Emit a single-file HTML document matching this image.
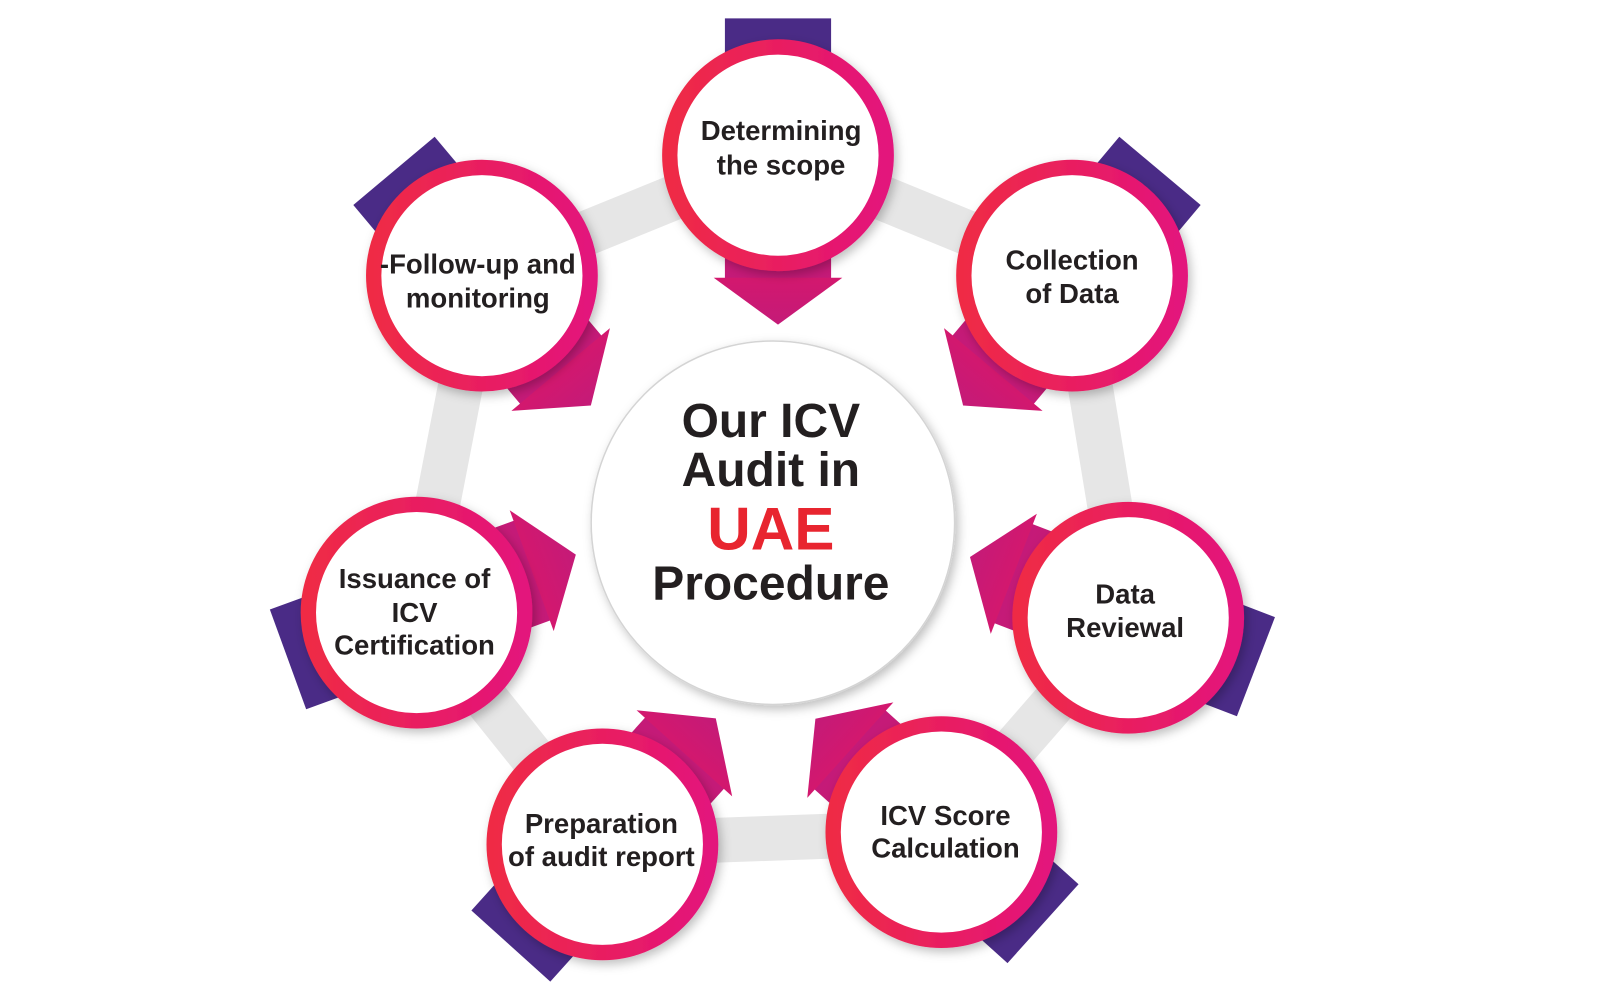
<!DOCTYPE html>
<html><head><meta charset="utf-8"><style>
html,body{margin:0;padding:0;background:#fff;}
svg{display:block;}
text{font-family:"Liberation Sans",sans-serif;font-weight:bold;fill:#231f20;text-anchor:middle;}
</style></head><body>
<svg width="1600" height="1008" viewBox="0 0 1600 1008" xmlns="http://www.w3.org/2000/svg">
<defs>
<linearGradient id="ring" x1="0" y1="0" x2="1" y2="0">
<stop offset="0" stop-color="#ef2b45"/><stop offset="1" stop-color="#e3127c"/>
</linearGradient>
<linearGradient id="arr" x1="0" y1="0" x2="0" y2="1">
<stop offset="0" stop-color="#d3186e"/><stop offset="1" stop-color="#c41a78"/>
</linearGradient>
<filter id="sh" x="-20%" y="-20%" width="140%" height="140%"><feDropShadow dx="3" dy="4" stdDeviation="5" flood-opacity="0.25"/></filter>
<g id="arrow">
<rect x="-52" y="-134" width="104" height="134" fill="#4a2b86"/>
<rect x="-52" y="0" width="104" height="122" fill="url(#arr)"/>
<polygon points="-63,120 63,120 0,166" fill="url(#arr)"/>
</g>
</defs>
<g transform="scale(1.021)">
<polygon points="762,152 1050,270 1105,605 922,815 590,827 408,600 472,270" fill="none" stroke="#e6e6e6" stroke-width="44" stroke-linejoin="round"/>
<circle cx="757" cy="512" r="178" fill="#fff" stroke="#d4d4d4" stroke-width="1.5" filter="url(#sh)"/>
<use href="#arrow" transform="translate(762,152) rotate(0)"/>
<use href="#arrow" transform="translate(1050,270) rotate(40)"/>
<use href="#arrow" transform="translate(1105,605) rotate(111)"/>
<use href="#arrow" transform="translate(922,815) rotate(132)"/>
<use href="#arrow" transform="translate(590,827) rotate(-138)"/>
<use href="#arrow" transform="translate(408,600) rotate(-110)"/>
<use href="#arrow" transform="translate(472,270) rotate(-40)"/>
<g fill="#fff" stroke="url(#ring)" stroke-width="15" filter="url(#sh)">
<circle cx="762" cy="152" r="106"/>
<circle cx="1050" cy="270" r="106"/>
<circle cx="1105" cy="605" r="106"/>
<circle cx="922" cy="815" r="106"/>
<circle cx="590" cy="827" r="106"/>
<circle cx="408" cy="600" r="106"/>
<circle cx="472" cy="270" r="106"/>
</g>
<g font-size="27">
<text x="765" y="137">Determining</text><text x="765" y="171">the scope</text>
<text x="1050" y="264">Collection</text><text x="1050" y="297">of Data</text>
<text x="1102" y="591">Data</text><text x="1102" y="624">Reviewal</text>
<text x="926" y="808">ICV Score</text><text x="926" y="840">Calculation</text>
<text x="589" y="816">Preparation</text><text x="589" y="848">of audit report</text>
<text x="406" y="576">Issuance of</text><text x="406" y="609">ICV</text><text x="406" y="641">Certification</text>
<text x="468" y="268">-Follow-up and</text><text x="468" y="301">monitoring</text>
</g>
<g font-size="47">
<text x="755" y="428">Our ICV</text>
<text x="755" y="476">Audit in</text>
<text x="755" y="538" font-size="59" style="fill:#e8252f">UAE</text>
<text x="755" y="587">Procedure</text>
</g>
</g>
</svg>
</body></html>
